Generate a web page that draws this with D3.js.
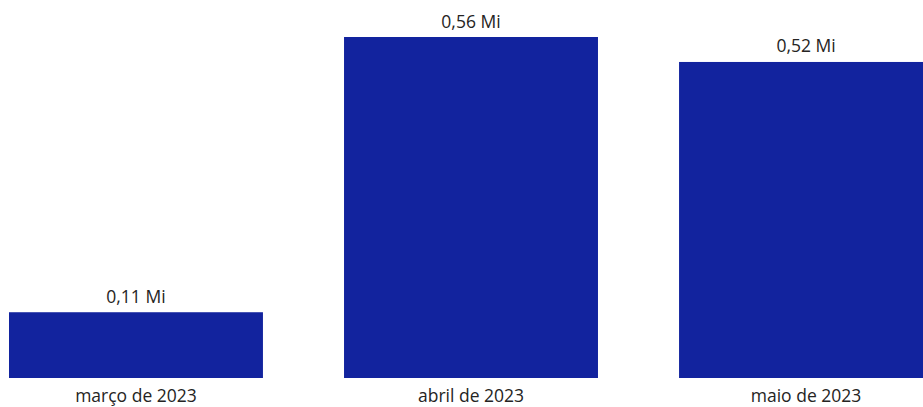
<!DOCTYPE html>
<html><head><meta charset="utf-8">
<script src="https://cdn.jsdelivr.net/npm/d3@7"></script>
<style>html,body{margin:0;padding:0;background:#fff;overflow:hidden}</style>
</head><body>
<svg id="chart" width="923" height="407"></svg>
<script>
const categories = ["março de 2023", "abril de 2023", "maio de 2023"];
const values = [0.108, 0.56, 0.519];
const valueLabels = ["0,11 Mi", "0,56 Mi", "0,52 Mi"];

const svg = d3.select("#chart");
const font = "'Segoe UI', 'Open Sans', 'Noto Sans', sans-serif";
const x = d3.scaleBand().domain(categories).range([9, 933]).paddingInner(0.242).paddingOuter(0);
const y = d3.scaleLinear().domain([0, 0.56]).range([378, 37]);

svg.selectAll("rect.bar").data(values).enter().append("rect")
  .attr("class", "bar")
  .attr("x", (d, i) => x(categories[i]))
  .attr("width", x.bandwidth())
  .attr("y", d => y(d))
  .attr("height", d => y(0) - y(d))
  .attr("fill", "#12239E");

svg.selectAll("text.val").data(values).enter().append("text")
  .attr("class", "val")
  .attr("x", (d, i) => x(categories[i]) + x.bandwidth() / 2)
  .attr("y", d => y(d) - 9.5)
  .attr("text-anchor", "middle")
  .attr("font-family", font).attr("font-size", 17.5).attr("fill", "#252423")
  .text((d, i) => valueLabels[i]);

const ax = svg.append("g").attr("transform", "translate(0,378)")
  .call(d3.axisBottom(x).tickSize(0).tickPadding(0));
ax.select(".domain").remove();
ax.selectAll("text").attr("font-family", font).attr("font-size", 17.5).attr("fill", "#252423")
  .attr("dy", null).attr("y", 23.5);
</script>
</body></html>
